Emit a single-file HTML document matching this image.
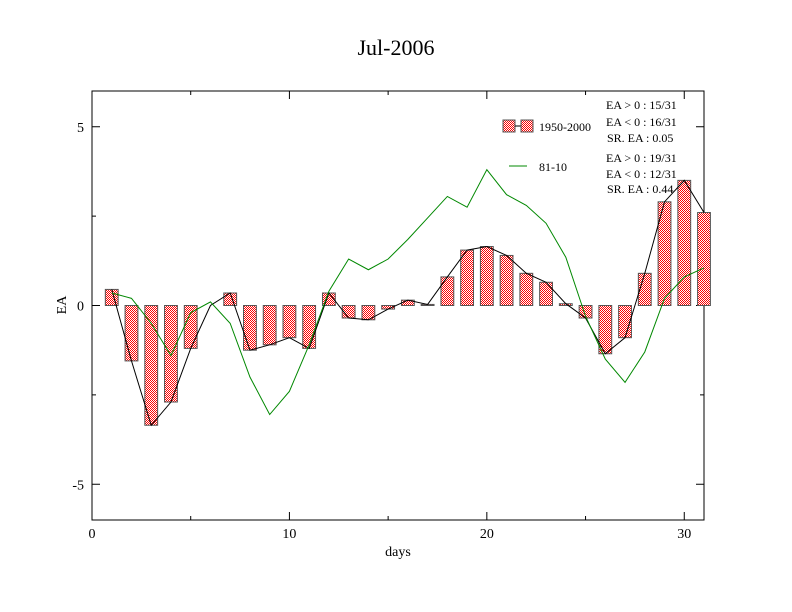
<!DOCTYPE html>
<html><head><meta charset="utf-8"><style>
body{margin:0;background:#fff;}
svg{display:block;font-family:"Liberation Serif",serif;}
</style></head><body>
<svg id="chart" width="792" height="612" viewBox="0 0 792 612">
<defs>
<pattern id="chk" width="2" height="2" patternUnits="userSpaceOnUse">
<rect width="2" height="2" fill="#fff"/><rect width="1" height="1" fill="#f00"/><rect x="1" y="1" width="1" height="1" fill="#f00"/>
</pattern>
</defs>
<text x="396" y="55" font-size="22" text-anchor="middle">Jul-2006</text>
<rect x="92" y="91" width="612" height="429" fill="none" stroke="#000" stroke-width="1"/>
<g id="axes"></g>
<g id="marks"></g>
<text x="398" y="556" font-size="14" text-anchor="middle">days</text>
<text x="66" y="305" font-size="14" text-anchor="middle" transform="rotate(-90 66 305)">EA</text>
<g font-size="12">
<rect x="503" y="120" width="12" height="12" fill="url(#chk)" stroke="#555"/>
<line x1="515" y1="126" x2="521" y2="126" stroke="#000"/>
<rect x="521" y="120" width="12" height="12" fill="url(#chk)" stroke="#555"/>
<text x="539" y="131">1950-2000</text>
<line x1="509" y1="166" x2="527" y2="166" stroke="#080"/>
<text x="539" y="171">81-10</text>
<text x="606" y="109">EA &gt; 0 : 15/31</text>
<text x="606" y="126">EA &lt; 0 : 16/31</text>
<text x="607" y="142">SR. EA :  0.05</text>
<text x="606" y="162">EA &gt; 0 : 19/31</text>
<text x="606" y="178">EA &lt; 0 : 12/31</text>
<text x="607" y="193">SR. EA :  0.44</text>
</g>
</svg>
<script>
const days = [1,2,3,4,5,6,7,8,9,10,11,12,13,14,15,16,17,18,19,20,21,22,23,24,25,26,27,28,29,30,31];
const barValues = [0.45,-1.55,-3.35,-2.7,-1.2,0,0.35,-1.25,-1.1,-0.9,-1.2,0.35,-0.35,-0.4,-0.1,0.15,0.03,0.8,1.55,1.65,1.4,0.9,0.65,0.05,-0.35,-1.35,-0.9,0.9,2.9,3.5,2.6];
const lineValues = [0.35,0.2,-0.5,-1.4,-0.2,0.1,-0.5,-2.0,-3.05,-2.4,-1.1,0.4,1.3,1.0,1.3,1.85,2.45,3.05,2.75,3.8,3.1,2.8,2.3,1.35,-0.3,-1.5,-2.15,-1.3,0.2,0.8,1.05];
const xTicks = [0,10,20,30];
const yTicks = [-5,0,5];
const NS="http://www.w3.org/2000/svg";
const X0=92,X1=704,Y0=520,Y1=91,xmin=0,xmax=31,ymin=-6,ymax=6;
const xs=v=>X0+(v-xmin)/(xmax-xmin)*(X1-X0);
const ys=v=>Y0-(v-ymin)/(ymax-ymin)*(Y0-Y1);
function mk(t,a,p){const e=document.createElementNS(NS,t);for(const k in a)e.setAttribute(k,a[k]);p.appendChild(e);return e;}
const ax=document.getElementById('axes'),mg=document.getElementById('marks');
xTicks.forEach(t=>{
 const l=mk('line',{x1:xs(t),x2:xs(t),y1:Y0,y2:Y0-8,stroke:'#000'},ax);
 
 
 const l2=mk('line',{x1:xs(t),x2:xs(t),y1:Y1,y2:Y1+8,stroke:'#000'},ax);
 
 
 const tx=mk('text',{x:xs(t),y:Y0+18,'font-size':14,'text-anchor':'middle'},ax);tx.textContent=t;
 
 
});
for(let t=5;t<31;t+=10){
 const l=mk('line',{x1:xs(t),x2:xs(t),y1:Y0,y2:Y0-4,stroke:'#000'},ax);
 
 
 const l2=mk('line',{x1:xs(t),x2:xs(t),y1:Y1,y2:Y1+4,stroke:'#000'},ax);
 
 
}
yTicks.forEach(t=>{
 const l=mk('line',{x1:X0,x2:X0+8,y1:ys(t),y2:ys(t),stroke:'#000'},ax);
 
 
 const l2=mk('line',{x1:X1,x2:X1-8,y1:ys(t),y2:ys(t),stroke:'#000'},ax);
 
 
 const tx=mk('text',{x:X0-8,y:ys(t)+5,'font-size':14,'text-anchor':'end'},ax);tx.textContent=t;
 
 
});
[-2.5,2.5].forEach(t=>{
 const l=mk('line',{x1:X0,x2:X0+4,y1:ys(t),y2:ys(t),stroke:'#000'},ax);
 
 
 const l2=mk('line',{x1:X1,x2:X1-4,y1:ys(t),y2:ys(t),stroke:'#000'},ax);
 
 
});
const bw=(xs(0.65)-xs(0));
days.forEach((d,i)=>{
 const v=barValues[i];
 const y=Math.min(ys(v),ys(0)),h=Math.abs(ys(v)-ys(0));
 const r=mk('rect',{x:xs(d)-bw/2,y:y,width:bw,height:h,fill:'url(#chk)',stroke:'#555','stroke-width':1},mg);
 
 
});
const bp=mk('polyline',{points:days.map((d,i)=>xs(d)+','+ys(barValues[i])).join(' '),fill:'none',stroke:'#000','stroke-width':1},mg);


const gp=mk('polyline',{points:days.map((d,i)=>xs(d)+','+ys(lineValues[i])).join(' '),fill:'none',stroke:'#080','stroke-width':1},mg);


</script>
</body></html>
